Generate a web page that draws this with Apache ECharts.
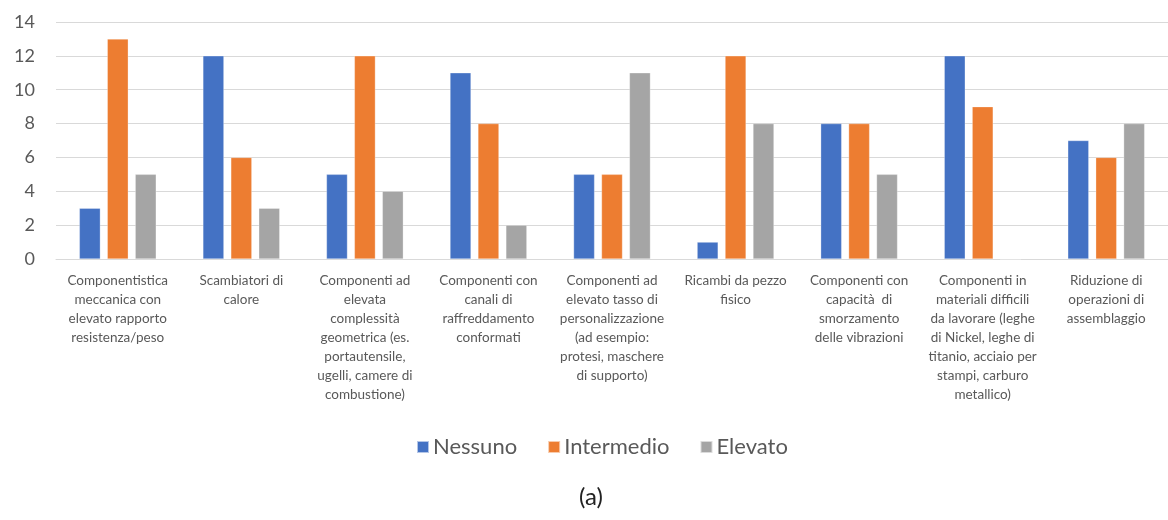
<!DOCTYPE html>
<html>
<head>
<meta charset="utf-8">
<script src="https://cdn.jsdelivr.net/npm/echarts@6/dist/echarts.min.js"></script>
<style>
html,body{margin:0;padding:0;background:#fff;}
#chart{width:1168px;height:520px;}
</style>
</head>
<body>
<div id="chart"></div>
<script>
const categories = [
  "Componentistica\nmeccanica con\nelevato rapporto\nresistenza/peso",
  "Scambiatori di\ncalore",
  "Componenti ad\nelevata\ncomplessità\ngeometrica (es.\nportautensile,\nugelli, camere di\ncombustione)",
  "Componenti con\ncanali di\nraffreddamento\nconformati",
  "Componenti ad\nelevato tasso di\npersonalizzazione\n(ad esempio:\nprotesi, maschere\ndi supporto)",
  "Ricambi da pezzo\nfisico",
  "Componenti con\ncapacità  di\nsmorzamento\ndelle vibrazioni",
  "Componenti in\nmateriali difficili\nda lavorare (leghe\ndi Nickel, leghe di\ntitanio, acciaio per\nstampi, carburo\nmetallico)",
  "Riduzione di\noperazioni di\nassemblaggio"
];
const nessuno    = [3, 12, 5, 11, 5, 1, 8, 12, 7];
const intermedio = [13, 6, 12, 8, 5, 12, 8, 9, 6];
const elevato    = [5, 3, 4, 2, 11, 8, 5, 0, 8];
const seriesNames = ["Nessuno", "Intermedio", "Elevato"];
const colors = ["#4472C4", "#ED7D31", "#A5A5A5"];

const chart = echarts.init(document.getElementById('chart'), null, {renderer: 'canvas'});
const data = [nessuno, intermedio, elevato];
chart.setOption({
  animation: false,
  color: colors,
  grid: {left: 56, top: 22, width: 1116, height: 237, containLabel: false},
  title: {
    text: "(a)", left: 586, top: 480, textAlign: 'center',
    textStyle: {fontFamily: 'Lato', fontSize: 24, fontWeight: 'normal', color: '#222'}
  },
  legend: {
    data: seriesNames,
    left: 411, top: 431,
    icon: 'rect', itemWidth: 12, itemHeight: 12, itemGap: 30,
    textStyle: {fontFamily: 'Lato', fontSize: 22, color: '#595959', padding: [0, 0, 0, -1]}
  },
  xAxis: {
    type: 'category',
    data: categories,
    axisLine: {show: true, lineStyle: {color: '#D9D9D9', width: 1}},
    axisTick: {show: false},
    axisLabel: {
      interval: 0, margin: 12,
      fontFamily: 'Lato', fontSize: 13.5, lineHeight: 19, color: '#595959', align: 'center'
    }
  },
  yAxis: {
    type: 'value', min: 0, max: 14, interval: 2,
    axisLine: {show: false}, axisTick: {show: false},
    splitLine: {lineStyle: {color: '#D9D9D9', width: 1}},
    axisLabel: {fontFamily: 'Lato', fontSize: 18, color: '#595959', margin: 21}
  },
  series: seriesNames.map((n, i) => ({
    name: n, type: 'bar', data: data[i],
    barWidth: 21, barGap: '33%',
    itemStyle: {color: colors[i], borderColor: 'rgba(255,255,255,0.6)', borderWidth: 0.5}
  }))
});
</script>
</body>
</html>
